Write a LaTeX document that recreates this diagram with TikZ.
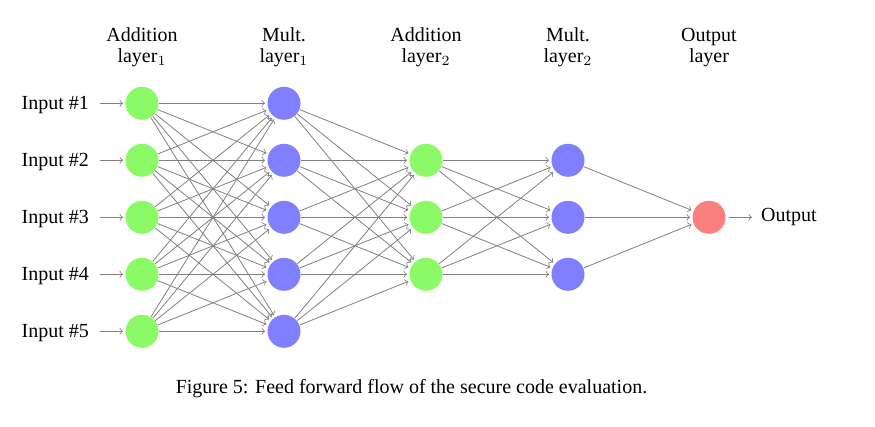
\documentclass[tikz,border=0pt]{standalone}
\usepackage{fontspec}
\setmainfont{Liberation Serif}
\definecolor{ngreen}{RGB}{140,250,102}
\definecolor{nblue}{RGB}{128,128,255}
\definecolor{nred}{RGB}{250,128,128}
\definecolor{edgegray}{RGB}{128,128,128}
\begin{document}
\begin{tikzpicture}[x=0.5pt,y=-0.5pt,
  neuron/.style={circle,minimum size=16.5pt,inner sep=0pt},
  addn/.style={neuron,fill=ngreen},
  multn/.style={neuron,fill=nblue},
  outn/.style={neuron,fill=nred},
  conn/.style={->,draw=edgegray,shorten >=1pt},
  lbl/.style={font=\fontsize{10}{12}\selectfont},
  head/.style={align=center,inner sep=0pt,anchor=south,font=\fontsize{10}{10.5}\selectfont}]
\useasboundingbox (0,0) rectangle (875,427);
% layers
\foreach \i/\y in {1/103.3,2/160.3,3/217.3,4/274.3,5/331.3} {
  \node[addn] (A\i) at (142,\y) {};
  \node[lbl,anchor=base east] (T\i) at (96,\y+6) {Input \#\i};
  \node[multn] (M\i) at (284,\y) {};
}
\foreach \i/\y in {1/160.3,2/217.3,3/274.3} {
  \node[addn] (B\i) at (426,\y) {};
  \node[multn] (C\i) at (568,\y) {};
}
\node[outn] (O) at (709,217.3) {};
\node[lbl,anchor=west] (Out) at (754,217.3) {Output};
% headers
\node[head] (H1) at (142,67) {Addition\\layer$_1$};
\node[head] (H2) at (284,67) {Mult.\\layer$_1$};
\node[head] (H3) at (426,67) {Addition\\layer$_2$};
\node[head] (H4) at (568,67) {Mult.\\layer$_2$};
\node[head] (H5) at (709,67) {Output\\layer};
% connections
\foreach \i in {1,...,5} \draw[conn,shorten <=2pt] (T\i.east |- A\i) -- (A\i);
\foreach \s in {1,...,5} \foreach \d in {1,...,5} \draw[conn] (A\s) -- (M\d);
\foreach \s in {1,...,5} \foreach \d in {1,2,3} \draw[conn] (M\s) -- (B\d);
\foreach \s in {1,2,3} \foreach \d in {1,2,3} \draw[conn] (B\s) -- (C\d);
\foreach \s in {1,2,3} \draw[conn] (C\s) -- (O);
\draw[conn,shorten <=1.5pt] (O) -- (Out);
% caption
\node[lbl,anchor=base] (cap) at (411.5,394) {Figure 5: Feed forward flow of the secure code evaluation.};
\end{tikzpicture}
\end{document}
